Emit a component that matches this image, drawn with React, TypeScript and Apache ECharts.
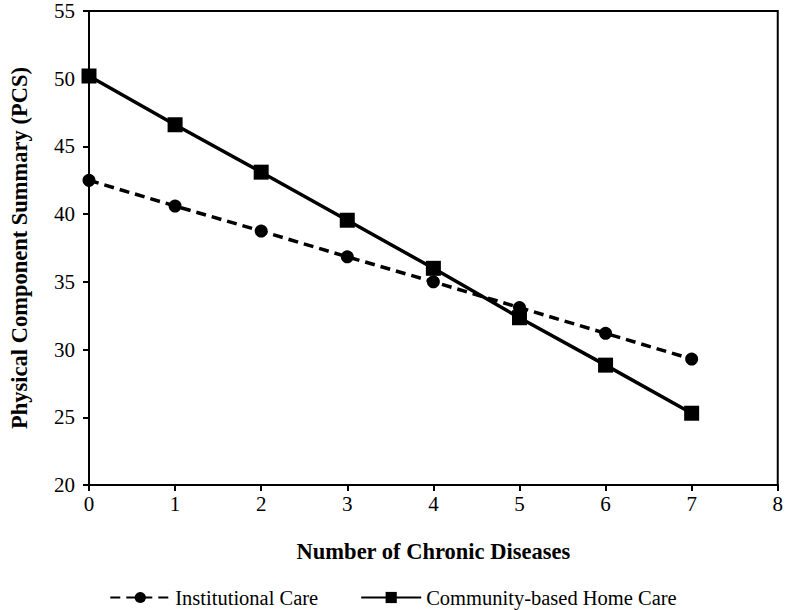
import React, { useEffect, useRef } from "react";
import * as echarts from "echarts";

const categories = [0, 1, 2, 3, 4, 5, 6, 7];
const institutionalCare = [42.5, 40.6, 38.75, 36.85, 35.0, 33.1, 31.2, 29.3];
const communityCare = [50.2, 46.6, 43.1, 39.55, 36.0, 32.35, 28.85, 25.3];
const seriesNames = ["Institutional Care", "Community-based Home Care"];

export default function App() {
  const ref = useRef<HTMLDivElement>(null);
  useEffect(() => {
    document.body.style.margin = "0";
    const chart = echarts.init(ref.current!, null, { renderer: "svg" });
    chart.setOption({
      animation: false,
      grid: {
        left: 84,
        right: 8,
        top: 11,
        bottom: 125,
        show: true,
        borderColor: "#000",
        borderWidth: 2,
      },
      xAxis: {
        type: "value",
        min: 0,
        max: 8,
        interval: 1,
        axisLine: { show: true, lineStyle: { color: "#000", width: 2 } },
        axisTick: { show: true, inside: false, length: 6, lineStyle: { color: "#000", width: 2 } },
        splitLine: { show: false },
        axisLabel: { fontFamily: "Liberation Serif", fontSize: 21, margin: 8, color: "#000" },
        name: "Number of Chronic Diseases",
        nameLocation: "middle",
        nameGap: 55,
        nameTextStyle: { fontFamily: "Liberation Serif", fontSize: 22.5, fontWeight: "bold", color: "#000" },
      },
      yAxis: {
        type: "value",
        min: 20,
        max: 55,
        interval: 5,
        axisLine: { show: true, lineStyle: { color: "#000", width: 2 } },
        axisTick: { show: true, inside: false, length: 6, lineStyle: { color: "#000", width: 2 } },
        splitLine: { show: false },
        axisLabel: { fontFamily: "Liberation Serif", fontSize: 21, margin: 14, color: "#000" },
        name: "Physical Component Summary (PCS)",
        nameLocation: "middle",
        nameGap: 58,
        nameTextStyle: { fontFamily: "Liberation Serif", fontSize: 22.5, fontWeight: "bold", color: "#000" },
      },
      legend: {
        top: 582,
        left: "center",
        itemGap: 42,
        itemWidth: 60,
        itemHeight: 14,
        textStyle: { fontFamily: "Liberation Serif", fontSize: 20.5, color: "#000" },
        data: seriesNames,
      },
      series: [
        {
          name: seriesNames[0],
          type: "line",
          data: categories.map((c, i) => [c, institutionalCare[i]]),
          symbol: "circle",
          symbolSize: 13,
          lineStyle: { color: "#000", width: 3.5, type: [10, 6] },
          itemStyle: { color: "#000" },
        },
        {
          name: seriesNames[1],
          type: "line",
          data: categories.map((c, i) => [c, communityCare[i]]),
          symbol: "rect",
          symbolSize: 15,
          lineStyle: { color: "#000", width: 3.5 },
          itemStyle: { color: "#000" },
        },
      ],
    });
    return () => chart.dispose();
  }, []);
  return <div ref={ref} style={{ width: 786, height: 610 }} />;
}
